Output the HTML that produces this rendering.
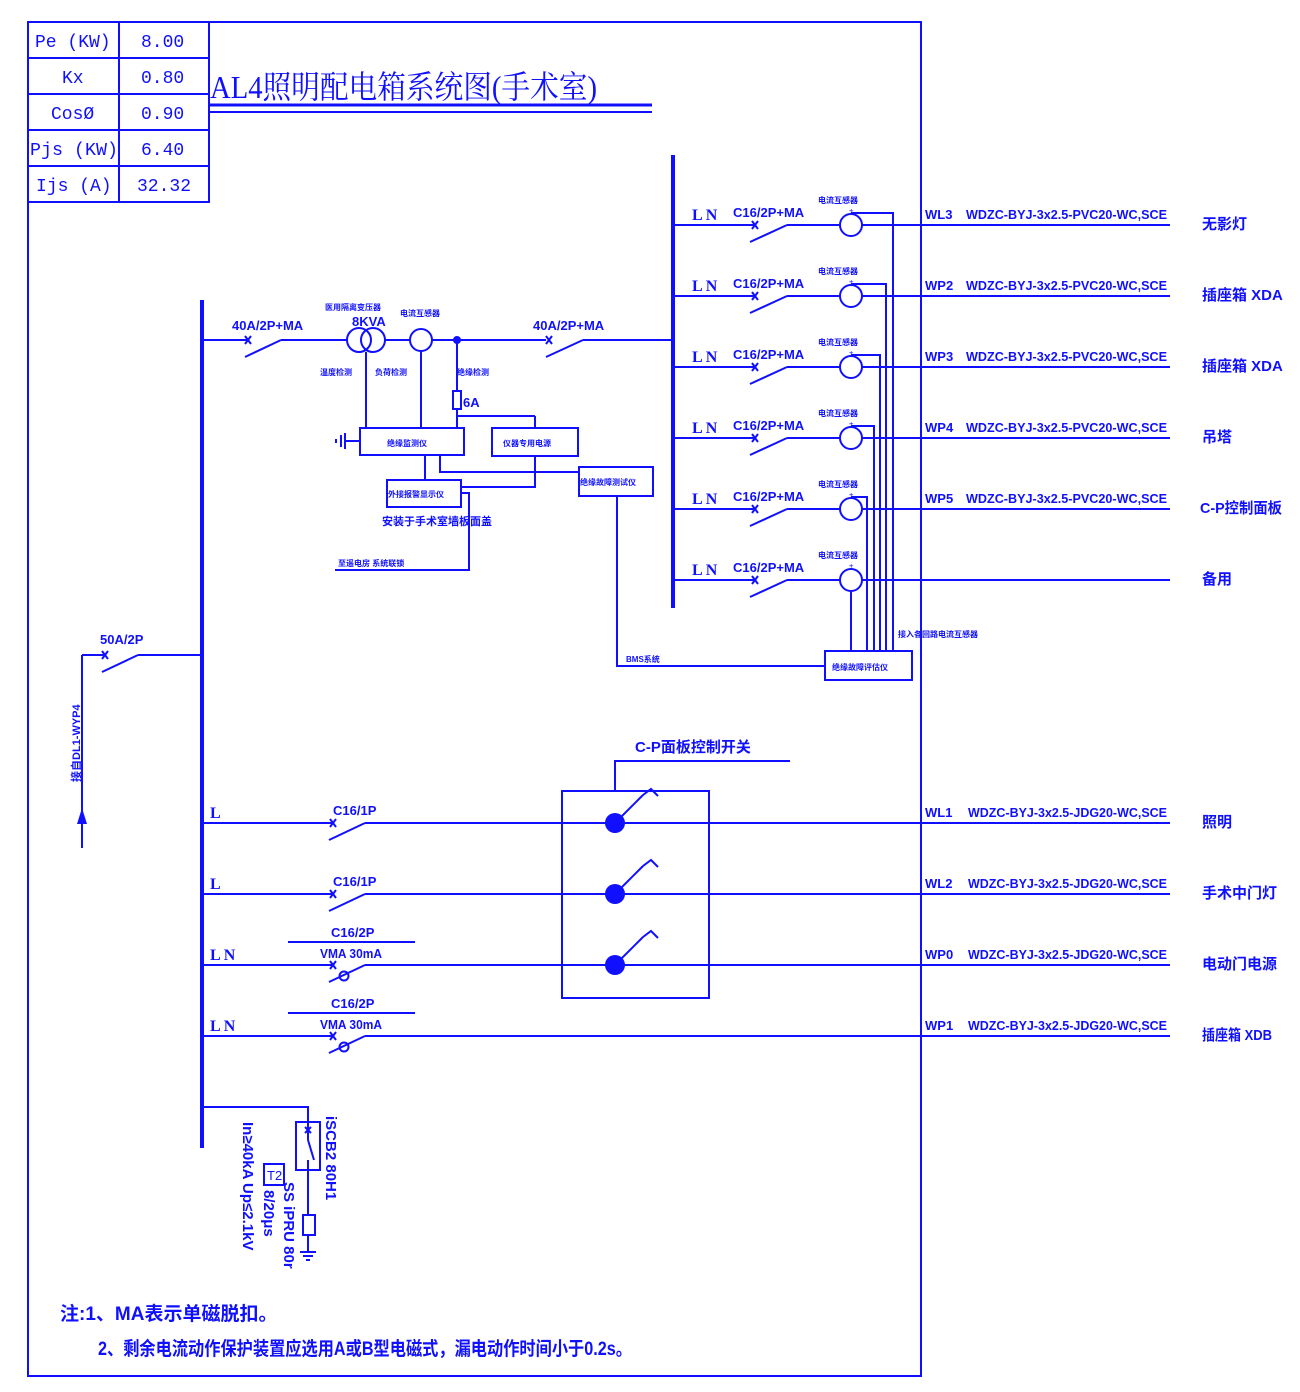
<!DOCTYPE html>
<html><head><meta charset="utf-8"><style>
html,body{margin:0;padding:0;background:#fff;}
svg{display:block;}
text{font-family:"Liberation Sans","Noto Sans CJK SC",sans-serif;fill:#1010ff;}
.b, .b text{font-weight:bold;}
.m, .m text{font-family:"Liberation Mono","Noto Sans CJK SC",monospace;}
.s, .s text{font-family:"Liberation Serif","Noto Serif CJK SC",serif;}
</style></head><body>
<svg width="1300" height="1392" viewBox="0 0 1300 1392" xmlns="http://www.w3.org/2000/svg">
<g stroke="#1010ff" stroke-width="2" fill="none">
<rect x="28" y="22" width="893" height="1354"/>
<rect x="28" y="22" width="181" height="180"/>
<line x1="119" y1="22" x2="119" y2="202"/>
<line x1="28" y1="58" x2="209" y2="58"/><line x1="28" y1="94" x2="209" y2="94"/>
<line x1="28" y1="130" x2="209" y2="130"/><line x1="28" y1="166" x2="209" y2="166"/>
<line x1="210" y1="105" x2="652" y2="105" stroke-width="3"/>
<line x1="210" y1="112" x2="652" y2="112" stroke-width="2"/>
<line x1="202" y1="300" x2="202" y2="1148" stroke-width="4"/>
<line x1="673" y1="155" x2="673" y2="608" stroke-width="4"/>
<line x1="82" y1="655" x2="82" y2="848"/>
<line x1="82" y1="655" x2="105" y2="655"/>
<line x1="102" y1="672" x2="138" y2="655"/>
<line x1="138" y1="655" x2="202" y2="655"/>
<path d="M102 651 l6 8 M108 651 l-6 8"/>
<line x1="202" y1="340" x2="248" y2="340"/>
<path d="M245 336 l6 8 M251 336 l-6 8"/>
<line x1="245" y1="357" x2="281" y2="340"/>
<line x1="281" y1="340" x2="347" y2="340"/>
<circle cx="359" cy="340" r="12"/><circle cx="373" cy="340" r="12"/>
<line x1="385" y1="340" x2="410" y2="340"/>
<circle cx="421" cy="340" r="11"/>
<line x1="432" y1="340" x2="546" y2="340"/>
<path d="M546 336 l6 8 M552 336 l-6 8"/>
<line x1="546" y1="357" x2="583" y2="340"/>
<line x1="583" y1="340" x2="673" y2="340"/>
<line x1="366" y1="352" x2="366" y2="428"/>
<line x1="421" y1="351" x2="421" y2="428"/>
<line x1="457" y1="340" x2="457" y2="391"/>
<rect x="453" y="391" width="8" height="18"/>
<line x1="457" y1="409" x2="457" y2="428"/>
<line x1="457" y1="416" x2="535" y2="416"/><line x1="535" y1="416" x2="535" y2="428"/>
<rect x="360" y="428" width="104" height="27"/>
<line x1="345" y1="441" x2="360" y2="441"/>
<line x1="345" y1="433" x2="345" y2="449" stroke-width="2"/>
<line x1="341" y1="435" x2="341" y2="447"/>
<line x1="336" y1="439" x2="336" y2="443"/>
<rect x="492" y="428" width="86" height="28"/>
<rect x="387" y="480" width="74" height="27"/>
<rect x="579" y="467" width="74" height="29"/>
<line x1="425" y1="455" x2="425" y2="480"/>
<path d="M440 455 V472 H579"/>
<path d="M535 456 V487 H461"/>
<path d="M461 493 H469 V570 H335"/>
<path d="M617 496 V666 H825"/>
<rect x="825" y="651" width="87" height="29"/>
<path d="M851 213 H893 V651"/>
<path d="M851 284 H886 V651"/>
<path d="M851 355 H880 V651"/>
<path d="M851 426 H874 V651"/>
<path d="M851 497 H867 V651"/>
<line x1="851" y1="592" x2="851" y2="651"/>
<g id="r1">
<line x1="673" y1="225" x2="755" y2="225"/>
<path d="M752 221 l6 8 M758 221 l-6 8"/>
<line x1="750" y1="242" x2="787" y2="225"/>
<line x1="787" y1="225" x2="840" y2="225"/>
<circle cx="851" cy="225" r="11"/>
<line x1="862" y1="225" x2="1170" y2="225"/>
</g>
<use href="#r1" y="71"/><use href="#r1" y="142"/><use href="#r1" y="213"/><use href="#r1" y="284"/><use href="#r1" y="355"/>
<g id="l1">
<line x1="202" y1="823" x2="333" y2="823"/>
<path d="M330 819 l6 8 M336 819 l-6 8"/>
<line x1="329" y1="840" x2="365" y2="823"/>
<line x1="365" y1="823" x2="1170" y2="823"/>
</g>
<use href="#l1" y="71"/>
<g id="l3">
<line x1="202" y1="965" x2="333" y2="965"/>
<path d="M330 961 l6 8 M336 961 l-6 8"/>
<line x1="329" y1="982" x2="365" y2="965"/>
<circle cx="344" cy="976" r="4.5"/>
<line x1="365" y1="965" x2="1170" y2="965"/>
<line x1="288" y1="942" x2="415" y2="942"/>
</g>
<use href="#l3" y="71"/>
<rect x="562" y="791" width="147" height="207"/>
<path d="M615 791 V761 H790"/>
<g id="sw"><line x1="615" y1="823" x2="643" y2="795"/><path d="M643 795 l8 -6 l7 7"/></g>
<use href="#sw" y="71"/><use href="#sw" y="142"/>
<path d="M202 1107 H308 V1122"/>
<rect x="296" y="1122" width="24" height="48"/>
<line x1="308" y1="1122" x2="308" y2="1140"/>
<line x1="308" y1="1140" x2="314" y2="1160"/>
<path d="M305 1127 l6 6 M311 1127 l-6 6"/>
<line x1="308" y1="1160" x2="308" y2="1215"/>
<rect x="303" y="1215" width="12" height="20"/>
<line x1="308" y1="1235" x2="308" y2="1252"/>
<line x1="300" y1="1252" x2="316" y2="1252"/><line x1="303" y1="1256" x2="313" y2="1256"/><line x1="306" y1="1260" x2="310" y2="1260"/>
<rect x="264" y="1164" width="20" height="21"/>
</g>
<g fill="#1010ff">
<circle cx="457" cy="340" r="4"/>
<circle cx="615" cy="823" r="10"/><circle cx="615" cy="894" r="10"/><circle cx="615" cy="965" r="10"/>
<path d="M82 808 l-5 16 h10z"/>
</g>
<g class="m" font-size="18">
<text x="35" y="47">Pe (KW)</text><text x="141" y="47">8.00</text>
<text x="62" y="83">Kx</text><text x="141" y="83">0.80</text>
<text x="51" y="119">CosØ</text><text x="141" y="119">0.90</text>
<text x="30" y="155" textLength="88" lengthAdjust="spacingAndGlyphs">Pjs (KW)</text><text x="141" y="155">6.40</text>
<text x="36" y="191">Ijs (A)</text><text x="137" y="191">32.32</text>
</g>
<text class="s" x="210" y="98" font-size="32" textLength="387" lengthAdjust="spacingAndGlyphs">AL4照明配电箱系统图(手术室)</text>
<g class="b" font-size="13">
<text x="100" y="644">50A/2P</text>
<text x="232" y="330">40A/2P+MA</text>
<text x="533" y="330">40A/2P+MA</text>
<text x="352" y="326">8KVA</text>
<text x="463" y="407">6A</text>
</g>
<g class="b" font-size="8">
<text x="325" y="310">医用隔离变压器</text>
<text x="400" y="316">电流互感器</text>
<text x="320" y="375">温度检测</text>
<text x="375" y="375">负荷检测</text>
<text x="457" y="375">绝缘检测</text>
<text x="387" y="446">绝缘监测仪</text>
<text x="503" y="446">仪器专用电源</text>
<text x="388" y="497">外接报警显示仪</text>
<text x="580" y="485">绝缘故障测试仪</text>
<text x="338" y="566">至遥电房 系统联锁</text>
<text x="626" y="662">BMS系统</text>
<text x="832" y="670">绝缘故障评估仪</text>
<text x="898" y="637">接入各回路电流互感器</text>
</g>
<text class="b" x="382" y="525" font-size="11">安装于手术室墙板面盖</text>
<text class="b" font-size="11" transform="translate(80,782) rotate(-90)">接自DL1-WYP4</text>
<g id="t1">
<text class="s b" x="692" y="220" font-size="16">L N</text>
<text class="b" x="733" y="217" font-size="13">C16/2P+MA</text>
<text class="b" x="818" y="203" font-size="8">电流互感器</text>
<text x="849" y="214" font-size="8">±</text>
</g>
<use href="#t1" y="71"/><use href="#t1" y="142"/><use href="#t1" y="213"/><use href="#t1" y="284"/><use href="#t1" y="355"/>
<g class="b" font-size="13">
<text x="925" y="219">WL3</text><text x="966" y="219" textLength="201" lengthAdjust="spacingAndGlyphs">WDZC-BYJ-3x2.5-PVC20-WC,SCE</text>
<text x="925" y="290">WP2</text><text x="966" y="290" textLength="201" lengthAdjust="spacingAndGlyphs">WDZC-BYJ-3x2.5-PVC20-WC,SCE</text>
<text x="925" y="361">WP3</text><text x="966" y="361" textLength="201" lengthAdjust="spacingAndGlyphs">WDZC-BYJ-3x2.5-PVC20-WC,SCE</text>
<text x="925" y="432">WP4</text><text x="966" y="432" textLength="201" lengthAdjust="spacingAndGlyphs">WDZC-BYJ-3x2.5-PVC20-WC,SCE</text>
<text x="925" y="503">WP5</text><text x="966" y="503" textLength="201" lengthAdjust="spacingAndGlyphs">WDZC-BYJ-3x2.5-PVC20-WC,SCE</text>
<text x="925" y="817">WL1</text><text x="968" y="817" textLength="199" lengthAdjust="spacingAndGlyphs">WDZC-BYJ-3x2.5-JDG20-WC,SCE</text>
<text x="925" y="888">WL2</text><text x="968" y="888" textLength="199" lengthAdjust="spacingAndGlyphs">WDZC-BYJ-3x2.5-JDG20-WC,SCE</text>
<text x="925" y="959">WP0</text><text x="968" y="959" textLength="199" lengthAdjust="spacingAndGlyphs">WDZC-BYJ-3x2.5-JDG20-WC,SCE</text>
<text x="925" y="1030">WP1</text><text x="968" y="1030" textLength="199" lengthAdjust="spacingAndGlyphs">WDZC-BYJ-3x2.5-JDG20-WC,SCE</text>
</g>
<g class="b" font-size="15">
<text x="1202" y="229">无影灯</text>
<text x="1202" y="300">插座箱 XDA</text>
<text x="1202" y="371">插座箱 XDA</text>
<text x="1202" y="442">吊塔</text>
<text x="1200" y="513" textLength="82" lengthAdjust="spacingAndGlyphs">C-P控制面板</text>
<text x="1202" y="584">备用</text>
<text x="1202" y="827">照明</text>
<text x="1202" y="898">手术中门灯</text>
<text x="1202" y="969">电动门电源</text>
<text x="1202" y="1040" textLength="70" lengthAdjust="spacingAndGlyphs">插座箱 XDB</text>
</g>
<g class="s b" font-size="16">
<text x="210" y="818">L</text><text x="210" y="889">L</text>
<text x="210" y="960">L N</text><text x="210" y="1031">L N</text>
</g>
<g class="b" font-size="13">
<text x="333" y="815">C16/1P</text><text x="333" y="886">C16/1P</text>
<text x="331" y="937">C16/2P</text><text x="331" y="1008">C16/2P</text>
<text x="320" y="958" textLength="62" lengthAdjust="spacingAndGlyphs">VMA 30mA</text>
<text x="320" y="1029" textLength="62" lengthAdjust="spacingAndGlyphs">VMA 30mA</text>
</g>
<text class="b" x="635" y="752" font-size="15">C-P面板控制开关</text>
<g class="b" font-size="15">
<text transform="translate(326,1116) rotate(90)">iSCB2 80H1</text>
<text transform="translate(284,1182) rotate(90)">SS iPRU 80r</text>
<text transform="translate(264,1190) rotate(90)">8/20μs</text>
<text transform="translate(243,1122) rotate(90)">In≥40kA  Up≤2.1kV</text>
</g>
<text x="267" y="1180" font-size="13">T2</text>
<g class="b" font-size="19">
<text x="60" y="1320">注:1、MA表示单磁脱扣。</text>
<text x="98" y="1355" textLength="534" lengthAdjust="spacingAndGlyphs">2、剩余电流动作保护装置应选用A或B型电磁式，漏电动作时间小于0.2s。</text>
</g>
</svg>
</body></html>
